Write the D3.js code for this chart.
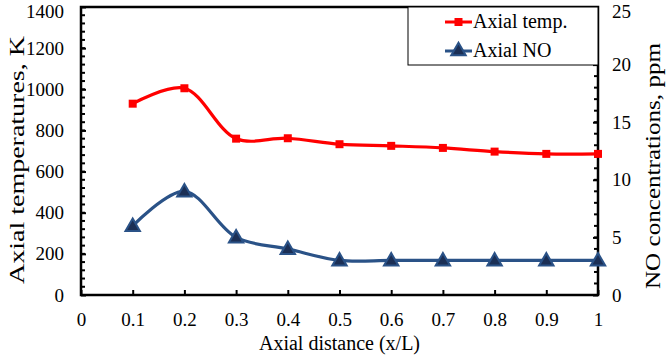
<!DOCTYPE html>
<html><head><meta charset="utf-8">
<script src="https://cdn.jsdelivr.net/npm/d3@7"></script>
<style>body{margin:0;background:#fff}svg text{font-family:"Liberation Serif","Times New Roman",serif;}</style>
</head><body><svg id="c" width="672" height="359"></svg>
<script>
const xValues = [0.1,0.2,0.3,0.4,0.5,0.6,0.7,0.8,0.9,1.0];
const tempValues = [930,1005,760,762,733,725,715,697,686,686];
const noValues = [6.0,9.0,5.0,4.0,3.0,3.0,3.0,3.0,3.0,3.0];
const xTicks = [0,0.1,0.2,0.3,0.4,0.5,0.6,0.7,0.8,0.9,1];
const leftTicks = [0,200,400,600,800,1000,1200,1400];
const rightTicks = [0,5,10,15,20,25];
const seriesNames = ["Axial temp.","Axial NO"];

const svg = d3.select("#c");
const L=81,R=598,T=7,B=295;
const x = d3.scaleLinear().domain([0,1]).range([L,R]);
const yL = d3.scaleLinear().domain([0,1400]).range([B,T]);
const yR = d3.scaleLinear().domain([0,25]).range([B,T]);
const red="#ff0000", blue="#2a5287";

// minor ticks
const gMin = svg.append("g").attr("stroke","#000").attr("stroke-width",2);
d3.range(0,1401,40).forEach(v=>{gMin.append("line").attr("x1",L).attr("x2",L+4).attr("y1",yL(v)).attr("y2",yL(v));});
d3.range(0,26,1).forEach(v=>{gMin.append("line").attr("x1",R).attr("x2",R-4).attr("y1",yR(v)).attr("y2",yR(v));});

// axes
const fs = "19px";
const ax = svg.append("g").attr("transform",`translate(0,${B})`)
  .call(d3.axisBottom(x).tickValues(xTicks).tickFormat(d=>d3.format("~g")(d)).tickSizeInner(-5).tickSizeOuter(0).tickPadding(18));
const al = svg.append("g").attr("transform",`translate(${L},0)`)
  .call(d3.axisLeft(yL).tickValues(leftTicks).tickSizeInner(-5).tickSizeOuter(0).tickPadding(17).tickFormat(d3.format("d")));
const ar = svg.append("g").attr("transform",`translate(${R},0)`)
  .call(d3.axisRight(yR).tickValues(rightTicks).tickSizeInner(-5).tickSizeOuter(0).tickPadding(14));
[ax,al,ar].forEach(g=>{
  g.attr("font-size",fs).attr("font-family",null);
  g.select(".domain").remove();
  g.selectAll("line").attr("stroke","#000").attr("stroke-width",2);
  g.selectAll("text").attr("fill","#000").style("font-size",fs).style("font-family","'Liberation Serif', serif");
});
// keep the topmost labels inside the page
al.selectAll(".tick text").filter(d=>d===1400).attr("dy","0.55em");
ar.selectAll(".tick text").filter(d=>d===25).attr("dy","0.55em");

// frame
svg.append("rect").attr("x",L).attr("y",T).attr("width",R-L).attr("height",B-T)
  .attr("fill","none").attr("stroke","#000").attr("stroke-width",2.5);

// lines
const curve = d3.curveCatmullRom.alpha(0.5);
const lineT = d3.line().x((d,i)=>x(xValues[i])).y(d=>yL(d)).curve(curve);
const lineN = d3.line().x((d,i)=>x(xValues[i])).y(d=>yR(d)).curve(curve);
svg.append("path").attr("d",lineT(tempValues)).attr("fill","none").attr("stroke",red).attr("stroke-width",3.2);
svg.append("path").attr("d",lineN(noValues)).attr("fill","none").attr("stroke",blue).attr("stroke-width",3.2);
const sq = d3.symbol().type(d3.symbolSquare).size(64);
const tri = d3.symbol().type(d3.symbolTriangle).size(90);
svg.append("g").selectAll("path").data(tempValues).join("path")
  .attr("d",sq).attr("transform",(d,i)=>`translate(${x(xValues[i])},${yL(d)})`).attr("fill",red);
svg.append("g").selectAll("path").data(noValues).join("path")
  .attr("d",tri).attr("transform",(d,i)=>`translate(${x(xValues[i])},${yR(d)+1})`)
  .attr("fill","#1b2f55").attr("stroke",blue).attr("stroke-width",2);

// legend
const lg = svg.append("g");
lg.append("rect").attr("x",408).attr("y",T).attr("width",R-408).attr("height",65-T)
  .attr("fill","#fff").attr("stroke","#000").attr("stroke-width",1);
const legItems=[{n:seriesNames[0],c:red,s:sq,y:22,f:red,st:"none"},{n:seriesNames[1],c:blue,s:tri,y:51,f:"#1b2f55",st:blue}];
legItems.forEach(it=>{
  lg.append("line").attr("x1",445).attr("x2",472).attr("y1",it.y).attr("y2",it.y).attr("stroke",it.c).attr("stroke-width",3);
  lg.append("path").attr("d",it.s).attr("transform",`translate(458.5,${it.y})`).attr("fill",it.f).attr("stroke",it.st).attr("stroke-width",2);
  lg.append("text").attr("x",473).attr("y",it.y+6).style("font-size","20px").text(it.n);
});

// titles
svg.append("text").attr("x",(L+R)/2).attr("y",350).attr("text-anchor","middle").style("font-size","20px").text("Axial distance (x/L)");
svg.append("text").attr("transform",`translate(24,160) rotate(-90)`).attr("text-anchor","middle").style("font-size","21px")
  .attr("textLength",248).attr("lengthAdjust","spacingAndGlyphs").text("Axial temperatures, K");
svg.append("text").attr("transform",`translate(660,166) rotate(-90)`).attr("text-anchor","middle").style("font-size","21px")
  .attr("textLength",246).attr("lengthAdjust","spacingAndGlyphs").text("NO concentrations, ppm");
</script></body></html>
